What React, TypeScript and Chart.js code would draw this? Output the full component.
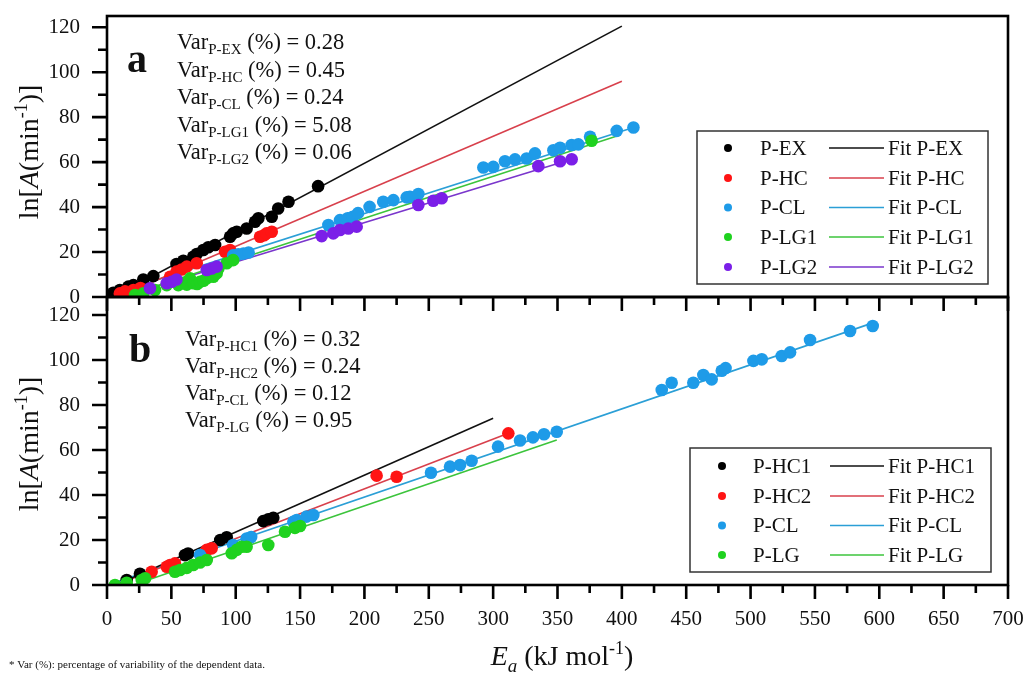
import React, { useEffect, useRef } from "react";
import { Chart, registerables } from "chart.js";
Chart.register(...registerables);

const FONT = '"Liberation Serif", "Times New Roman", Times, serif';
type Pt = [number, number];

// ---------- axis ticks ----------
const xTickValues = [0, 50, 100, 150, 200, 250, 300, 350, 400, 450, 500, 550, 600, 650, 700];
const yTickValues = [0, 20, 40, 60, 80, 100, 120];

// ---------- panel a ----------
const aNames = ["P-EX", "P-HC", "P-CL", "P-LG1", "P-LG2"];
const aVarValues = ["0.28", "0.45", "0.24", "5.08", "0.06"];
const aEX: Pt[] = [[4.9, 1.9], [10, 3.1], [16.6, 4.6], [20.5, 5.3], [28.2, 7.8], [36, 9.3], [54, 14.7], [59.3, 16.1], [67, 17.9], [69.7, 19.1], [74.8, 20.9], [78.7, 22.1], [84, 23.1], [95.6, 26.8], [98, 28.3], [100.8, 29], [108.5, 30.5], [115, 33.5], [117.6, 35], [128, 35.7], [133, 39.4], [141, 42.4], [164, 49.3]];
const aHC: Pt[] = [[10, 1.6], [14, 2.5], [20.5, 3.1], [26, 4], [49, 9], [54, 11.3], [58, 12.2], [62, 13.5], [69.7, 15], [91.7, 20.1], [95.6, 20.9], [118.9, 26.8], [122, 27.5], [124, 28.3], [128, 29]];
const aCL: Pt[] = [[98, 18.5], [102, 19], [106, 19.3], [110, 19.8], [172, 32], [181, 34.2], [187, 35], [191, 35.7], [195, 37.3], [204, 40.1], [214.6, 42.4], [222.5, 43.1], [232.8, 44.3], [235.4, 44.6], [241.9, 45.8], [292.4, 57.6], [300.1, 57.9], [309.2, 60.4], [317, 61.2], [326, 61.6], [332.5, 63.9], [346.8, 65.3], [352, 66.4], [361, 67.6], [366.2, 67.9], [375.3, 71.3], [396, 73.9], [409, 75.4]];
const aLG1: Pt[] = [[21.8, 0.9], [28.2, 1.6], [37.3, 3.1], [46.4, 5.3], [55.4, 5.3], [59.3, 6.1], [62, 5.5], [64.5, 8.3], [67, 6.1], [70, 5.8], [72.3, 6.8], [75, 7.2], [77.5, 8.3], [82.6, 9], [85.2, 10.5], [86.5, 12.7], [93, 15], [98, 16.4], [376.5, 69.5]];
const aLG2: Pt[] = [[33.4, 3.9], [46.4, 6.1], [50.3, 6.8], [54, 7.8], [77.5, 12], [81.3, 12.7], [85.2, 13.5], [166.8, 27.1], [175.8, 28.3], [181, 29.8], [187.5, 30.5], [194, 31.3], [241.9, 40.9], [253.5, 42.8], [260, 43.9], [335.1, 58.2], [352, 60.4], [361, 61.3]];
const aFitEX: Pt[] = [[5, 0], [400, 120.5]];
const aFitHC: Pt[] = [[8, 0], [400, 96]];
const aFitCL: Pt[] = [[0, 0.5], [409, 75.4]];
const aFitLG1: Pt[] = [[12, 0], [398, 72]];
const aFitLG2: Pt[] = [[11, 0], [361, 61.3]];

// ---------- panel b ----------
const bNames = ["P-HC1", "P-HC2", "P-CL", "P-LG"];
const bVarValues = ["0.32", "0.24", "0.12", "0.95"];
const bHC1: Pt[] = [[15.3, 2.2], [25.6, 5], [60.6, 13.3], [63, 14], [88, 20], [93, 21.2], [121.4, 28.4], [125.3, 29.2], [129.2, 29.9]];
const bHC2: Pt[] = [[34.7, 5.9], [46.4, 8.1], [49, 8.9], [52.8, 9.6], [77.5, 15.6], [81.3, 16.3], [209.5, 48.6], [225, 48.1], [311.8, 67.4]];
const bCL: Pt[] = [[72.3, 13.3], [98, 17.8], [108.5, 20.7], [112, 21.3], [144.8, 28.1], [147.4, 28.9], [155, 30.4], [160.3, 31.1], [251.7, 49.9], [266.5, 52.6], [274.3, 53.3], [283.3, 55.2], [303.8, 61.5], [320.9, 64.2], [330.9, 65.6], [339.5, 67], [349.4, 68.1], [431, 86.7], [438.7, 89.9], [455.5, 89.9], [463.3, 93.3], [469.8, 91.4], [477.6, 95.2], [480.6, 96.4], [502.2, 99.6], [508.7, 100.3], [524.2, 101.8], [530.7, 103.4], [546.2, 108.9], [577.3, 112.9], [594.9, 115.1]];
const bLG: Pt[] = [[6.2, 0], [15.3, 1], [27, 2.2], [29.6, 3], [52.8, 5.9], [56.7, 6.7], [62, 7.6], [67, 8.9], [72.3, 10], [77.5, 11.1], [96.9, 14.1], [100.8, 15.6], [104.6, 17], [108.5, 17], [125.3, 17.8], [138.3, 23.7], [146, 25.4], [150, 26.2]];
const bFitHC1: Pt[] = [[7, 0], [300, 74.1]];
const bFitHC2: Pt[] = [[6.6, 0], [311.8, 67.4]];
const bFitCL: Pt[] = [[0.6, 0], [595, 116.5]];
const bFitLG: Pt[] = [[20.4, 0], [349.4, 64.4]];

// ---------- colours ----------
const DOT = { black: "#000000", red: "#ff1414", blue: "#1e9be8", green: "#1fd21f", purple: "#7b1fe8" };
const FIT = { black: "#111111", red: "#d8404c", blue: "#2b9fd6", green: "#3cc43c", purple: "#7a36cc" };

const aDots = [DOT.black, DOT.red, DOT.blue, DOT.green, DOT.purple];
const aFits = [FIT.black, FIT.red, FIT.blue, FIT.green, FIT.purple];
const bDots = [DOT.black, DOT.red, DOT.blue, DOT.green];
const bFits = [FIT.black, FIT.red, FIT.blue, FIT.green];

type Seg = { t: string; s: number; it?: boolean; b?: boolean; dy?: number };
const segFont = (g: Seg) => `${g.it ? "italic " : ""}${g.b ? "bold " : ""}${g.s}px ${FONT}`;
function richWidth(ctx: CanvasRenderingContext2D, segs: Seg[]) {
  let w = 0;
  for (const g of segs) { ctx.font = segFont(g); w += ctx.measureText(g.t).width; }
  return w;
}
function drawRich(ctx: CanvasRenderingContext2D, segs: Seg[], x: number, y: number, center = false) {
  let cx = center ? x - richWidth(ctx, segs) / 2 : x;
  ctx.textBaseline = "alphabetic";
  ctx.textAlign = "left";
  for (const g of segs) {
    ctx.font = segFont(g);
    ctx.fillText(g.t, cx, y + (g.dy || 0));
    cx += ctx.measureText(g.t).width;
  }
}

const yTitle: Seg[] = [
  { t: "ln[", s: 28 }, { t: "A", s: 28, it: true }, { t: "(min", s: 28 }, { t: "-1", s: 18, dy: -11 }, { t: ")]", s: 28 },
];
const xTitle: Seg[] = [
  { t: "E", s: 28, it: true }, { t: "a", s: 19, it: true, dy: 7 }, { t: " (kJ mol", s: 28 }, { t: "-1", s: 18, dy: -11 }, { t: ")", s: 28 },
];

interface PanelCfg {
  letter: string; letterX: number; letterY: number;
  varX: number; varY: number[]; varSubs: string[]; varVals: string[];
  names: string[]; dots: string[]; fits: string[];
  box: [number, number, number, number]; rowY: number[]; dotX: number; labelX: number; lineX: [number, number]; fitX: number;
  yMax: number; titleY: number; bottomLabels: boolean;
}

function panelPlugin(cfg: PanelCfg) {
  return {
    id: "panel_" + cfg.letter,
    afterDraw(chart: any) {
      const ctx: CanvasRenderingContext2D = chart.ctx;
      const ca = chart.chartArea;
      const xs = chart.scales.x, ys = chart.scales.y;
      ctx.save();
      ctx.strokeStyle = "#000";
      ctx.lineCap = "butt";
      ctx.lineWidth = 2.6;
      ctx.beginPath();
      for (let v = 0; v <= cfg.yMax; v += 10) {
        const y = ys.getPixelForValue(v);
        const len = v % 20 === 0 ? 15 : 9;
        ctx.moveTo(ca.left - len, y); ctx.lineTo(ca.left, y);
      }
      for (let v = 0; v <= 700; v += 25) {
        const x = xs.getPixelForValue(v);
        const len = v % 50 === 0 ? 14 : 8;
        ctx.moveTo(x, ca.bottom); ctx.lineTo(x, ca.bottom + len);
      }
      ctx.stroke();
      ctx.lineWidth = 2.6;
      ctx.strokeRect(ca.left, ca.top, ca.right - ca.left, ca.bottom - ca.top);

      ctx.fillStyle = "#111";
      ctx.font = `bold 40px ${FONT}`;
      ctx.textAlign = "left"; ctx.textBaseline = "alphabetic";
      ctx.fillText(cfg.letter, cfg.letterX, cfg.letterY);
      cfg.varSubs.forEach((sub, i) => {
        drawRich(ctx, [
          { t: "Var", s: 22.5 }, { t: sub, s: 15, dy: 5 }, { t: " (%) = " + cfg.varVals[i], s: 22.5 },
        ], cfg.varX, cfg.varY[i]);
      });
      ctx.save();
      ctx.translate(38, cfg.titleY);
      ctx.rotate(-Math.PI / 2);
      drawRich(ctx, yTitle, 0, 0, true);
      ctx.restore();
      const [bx, by, bw, bh] = cfg.box;
      ctx.strokeStyle = "#333";
      ctx.lineWidth = 1.5;
      ctx.strokeRect(bx, by, bw, bh);
      cfg.names.forEach((n, i) => {
        const cy = cfg.rowY[i];
        ctx.fillStyle = cfg.dots[i];
        ctx.beginPath(); ctx.arc(cfg.dotX, cy, 4, 0, Math.PI * 2); ctx.fill();
        ctx.fillStyle = "#111";
        ctx.font = `21px ${FONT}`;
        ctx.textBaseline = "middle"; ctx.textAlign = "left";
        ctx.fillText(n, cfg.labelX, cy + 1);
        ctx.strokeStyle = cfg.fits[i]; ctx.lineWidth = 1.6;
        ctx.beginPath(); ctx.moveTo(cfg.lineX[0], cy); ctx.lineTo(cfg.lineX[1], cy); ctx.stroke();
        ctx.fillText("Fit " + n, cfg.fitX, cy + 1);
      });
      if (cfg.bottomLabels) {
        ctx.fillStyle = "#111";
        drawRich(ctx, xTitle, 562, 665, true);
        ctx.font = `11px ${FONT}`;
        ctx.textAlign = "left"; ctx.textBaseline = "alphabetic";
        ctx.fillText("* Var (%): percentage of variability of the dependent data.", 9, 668);
      }
      ctx.restore();
    },
  };
}

function buildDatasets(series: Pt[][], fits: Pt[][], dots: string[], lines: string[], names: string[]) {
  const n = series.length;
  const ds: any[] = [];
  series.forEach((s, i) => {
    ds.push({
      label: names[i], data: s.map(([x, y]) => ({ x, y })), showLine: false,
      pointRadius: 6.3, pointBackgroundColor: dots[i], pointBorderWidth: 0, pointBorderColor: dots[i], order: n - i,
    });
  });
  fits.forEach((f, i) => {
    ds.push({
      label: "Fit " + names[i], data: f.map(([x, y]) => ({ x, y })), showLine: true,
      pointRadius: 0, borderColor: lines[i], borderWidth: 1.6, order: 20 + i,
    });
  });
  return ds;
}

const zeroPad = (s: any) => { s.paddingTop = 0; s.paddingBottom = 0; s.paddingLeft = 0; s.paddingRight = 0; };

function makeConfig(datasets: any[], top: number, xHeight: number, yMax: number, showX: boolean, plugin: any) {
  return {
    type: "scatter" as const,
    data: { datasets },
    options: {
      animation: false, responsive: false, maintainAspectRatio: false, events: [],
      layout: { padding: { left: 0, top, right: 20, bottom: 0 } },
      plugins: { legend: { display: false }, tooltip: { enabled: false } },
      scales: {
        x: {
          type: "linear", min: 0, max: 700, position: "bottom",
          afterFit: (s: any) => { s.height = xHeight; zeroPad(s); },
          afterBuildTicks: (s: any) => { s.ticks = xTickValues.map((v) => ({ value: v })); },
          grid: { display: false, drawTicks: false }, border: { display: false },
          ticks: { display: showX, stepSize: 50, padding: 22, color: "#111", font: { family: FONT, size: 21 }, maxRotation: 0, autoSkip: false },
        },
        y: {
          type: "linear", min: 0, max: yMax,
          afterFit: (s: any) => { s.width = 107; zeroPad(s); },
          afterBuildTicks: (s: any) => { s.ticks = yTickValues.map((v) => ({ value: v })); },
          grid: { display: false, drawTicks: false }, border: { display: false },
          ticks: { stepSize: 20, padding: 27, color: "#111", font: { family: FONT, size: 21 } },
        },
      },
    },
    plugins: [plugin],
  };
}

export default function App() {
  const refA = useRef<HTMLCanvasElement>(null);
  const refB = useRef<HTMLCanvasElement>(null);
  useEffect(() => {
    const cfgA: PanelCfg = {
      letter: "a", letterX: 127, letterY: 72,
      varX: 177, varY: [49, 76.5, 104, 131.5, 159], varSubs: aNames, varVals: aVarValues,
      names: aNames, dots: aDots, fits: aFits,
      box: [697, 131, 291, 153], rowY: [148, 178, 207.5, 237, 267], dotX: 728, labelX: 760, lineX: [829, 884], fitX: 888,
      yMax: 125, titleY: 152, bottomLabels: false,
    };
    const cfgB: PanelCfg = {
      letter: "b", letterX: 129, letterY: 362,
      varX: 185, varY: [346, 373, 400, 427], varSubs: bNames, varVals: bVarValues,
      names: bNames, dots: bDots, fits: bFits,
      box: [690, 448, 301, 124], rowY: [466, 496, 525.5, 555], dotX: 722, labelX: 753, lineX: [830, 884], fitX: 888,
      yMax: 128, titleY: 444, bottomLabels: true,
    };
    const dsA = buildDatasets([aEX, aHC, aCL, aLG1, aLG2], [aFitEX, aFitHC, aFitCL, aFitLG1, aFitLG2], aDots, aFits, aNames);
    const dsB = buildDatasets([bHC1, bHC2, bCL, bLG], [bFitHC1, bFitHC2, bFitCL, bFitLG], bDots, bFits, bNames);
    const chA = new Chart(refA.current!, makeConfig(dsA, 16, 675 - 297, 125, false, panelPlugin(cfgA)) as any);
    const chB = new Chart(refB.current!, makeConfig(dsB, 297, 675 - 585, 128, true, panelPlugin(cfgB)) as any);
    return () => { chA.destroy(); chB.destroy(); };
  }, []);
  const cs: React.CSSProperties = { position: "absolute", left: 0, top: 0, width: 1028, height: 675 };
  return (
    <div style={{ position: "fixed", left: 0, top: 0, width: 1028, height: 675, background: "#fff" }}>
      <canvas ref={refA} width={1028} height={675} style={cs} />
      <canvas ref={refB} width={1028} height={675} style={cs} />
    </div>
  );
}
